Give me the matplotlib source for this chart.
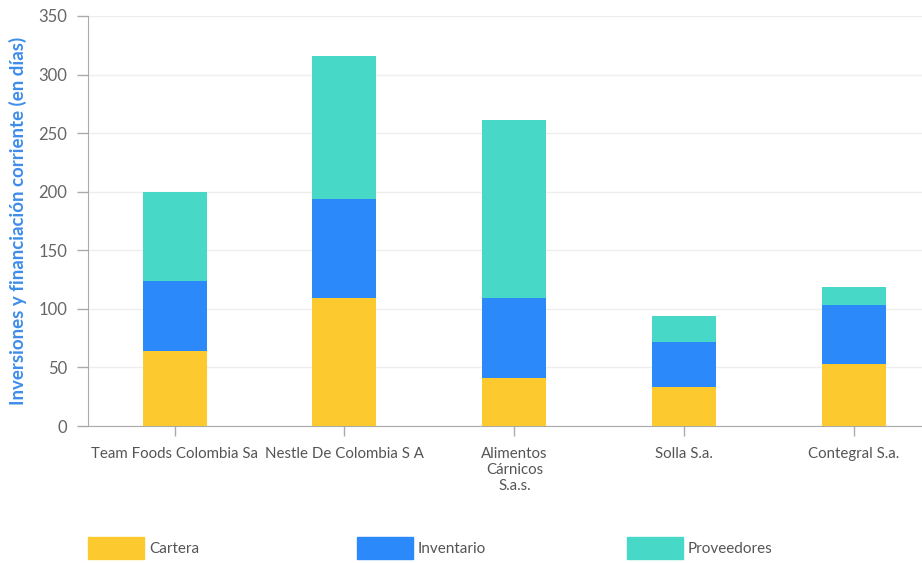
import matplotlib.pyplot as plt
import matplotlib.patches as mpatches
import numpy as np

plt.rcParams['font.family'] = ['Lato', 'DejaVu Sans']

# data
empresas = ['Team Foods Colombia Sa', 'Nestle De Colombia S A',
            'Alimentos\nCárnicos\nS.a.s.', 'Solla S.a.', 'Contegral S.a.']
cartera = [64, 109, 41, 33, 53]
inventario = [60, 85, 68, 39, 50]
proveedores = [76, 122, 152, 22, 16]

series = ['Cartera', 'Inventario', 'Proveedores']
colores = ['#FCC92F', '#2B89F9', '#48D8C8']

fig = plt.figure(figsize=(9.22, 5.63), dpi=100)
ax = fig.add_axes([0.0954, 0.2433, 0.9046, 0.7283])

x = np.arange(len(empresas))
ancho = 0.377
base = np.zeros(len(empresas))
for nombre, vals, col in zip(series, [cartera, inventario, proveedores], colores):
    ax.bar(x, vals, ancho, bottom=base, color=col, label=nombre, zorder=3)
    base = base + np.array(vals)

ax.set_xlim(-0.51, 4.40)
ax.set_ylim(0, 350)
ax.set_yticks(range(0, 351, 50))
ax.set_xticks(x)
ax.set_xticklabels(empresas, fontsize=10.8, color='#555555', linespacing=1.2)
ax.tick_params(axis='y', labelsize=12, colors='#aaaaaa', length=8, width=1, pad=7)
ax.tick_params(axis='x', length=7, width=1, colors='#aaaaaa', pad=8)
for lab in ax.get_xticklabels():
    lab.set_color('#555555')
for lab in ax.get_yticklabels():
    lab.set_color('#666666')

ax.grid(axis='y', color='#eeeeee', linewidth=1, zorder=0)
for s in ['top', 'right']:
    ax.spines[s].set_visible(False)
ax.spines['left'].set_color('#aaaaaa')
ax.spines['bottom'].set_color('#aaaaaa')

ax.set_ylabel('Inversiones y financiación corriente (en días)', fontsize=13.5,
              fontweight='bold', color='#3D8DEB', labelpad=8)

# legend: one entry per block, spread along the bottom
pos_x = [0.0954, 0.387, 0.680]
for nombre, col, px in zip(series, colores, pos_x):
    h = mpatches.Patch(color=col, label=nombre)
    fig.legend(handles=[h], loc='center left', bbox_to_anchor=(px, 0.0266),
               frameon=False, fontsize=11, handlelength=3.7, handleheight=1.85,
               handletextpad=0.3, borderpad=0, borderaxespad=0,
               labelcolor='#555555')

fig.savefig('out.png', dpi=100)
